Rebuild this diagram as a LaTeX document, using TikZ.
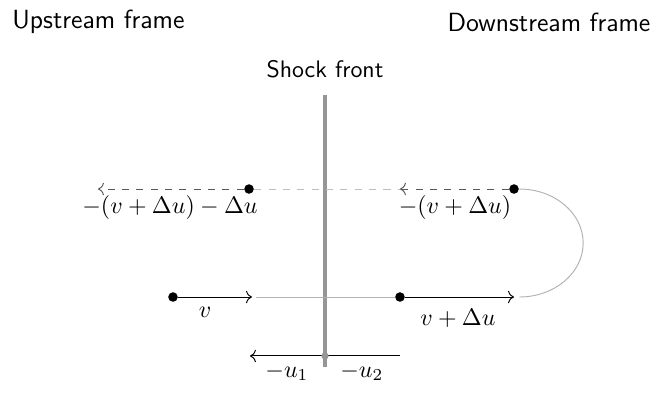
\documentclass[tikz,border=0pt]{standalone}
\usepackage{amsmath}
\usetikzlibrary{arrows.meta,calc,positioning}
\definecolor{shockgray}{RGB}{150,150,150}
\begin{document}
\begin{tikzpicture}[font=\sffamily,
  dot/.style={circle,fill=black,inner sep=0pt,minimum size=4pt},
  framelbl/.style={font=\sffamily\fontsize{11}{13}\selectfont},
  ghost/.style={draw=gray!60,thin}]
\useasboundingbox (0,0) rectangle (9.662,5.809);
%--- frames ---
\node[framelbl] (upframe) at (1.448,5.485) {Upstream frame};
\node[framelbl] (downframe) at (8.074,5.485) {Downstream frame};
%--- shock front ---
\node (shocklbl) at (4.779,4.794) {Shock front};
\coordinate (shocktop) at (4.779,4.412);
\coordinate (shockbot) at (4.779,0.412);
\draw[shockgray,line width=1.3pt] (shocktop) -- (shockbot);
% riflesso (in alto)
\node[dot] (m0) at (3.662,3.029) {};
\coordinate (m1) at (1.441,3.029);
\coordinate (mid) at (5.882,3.029);
\node[dot] (d0) at (7.559,3.029) {};
\draw[->,dashed,gray!70!black] (m0) -- (m1);
\draw[dashed,gray!50] (m0) -- (mid);
\draw[->,dashed,gray!70!black] (d0) -- (mid);
\node (lblm) at (2.5,2.75) {$-(v+\Delta u)-\Delta u$};
\node (lbld) at (6.691,2.75) {$-(v+\Delta u)$};
% inversione
\draw[ghost] (d0.east) arc[start angle=90,end angle=-90,x radius=0.94,y radius=0.794];
% ingresso (in basso)
\node[dot] (v0) at (2.544,1.441) {};
\coordinate (va) at (3.706,1.441);
\coordinate (vb) at (3.765,1.441);
\node[dot] (w0) at (5.882,1.441) {};
\coordinate (wa) at (7.559,1.441);
\draw[->] (v0) -- (va);
\draw[ghost] (vb) -- (w0);
\draw[->] (w0) -- (wa);
\node (lblv) at (3.015,1.221) {$v$};
\node (lblw) at (6.735,1.132) {$v+\Delta u$};
%--- velocita del fronte ---
\coordinate (u0) at (5.882,0.574);
\coordinate (u1) at (3.676,0.574);
\draw[->] (u0) -- (u1);
\node[dot,fill=shockgray,minimum size=3pt] (uc) at (4.779,0.574) {};
\node (lblu1) at (4.22,0.338) {$-u_1$};
\node (lblu2) at (5.32,0.338) {$-u_2$};
\end{tikzpicture}
\end{document}
